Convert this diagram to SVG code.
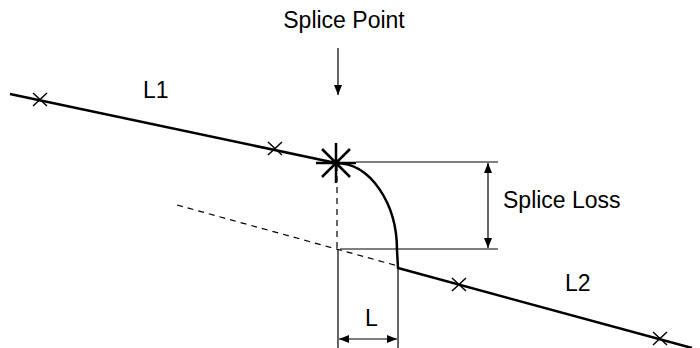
<svg xmlns="http://www.w3.org/2000/svg" width="700" height="348" viewBox="0 0 700 348">
<defs>
<style>
.t{font-family:"Liberation Sans",Arial,sans-serif;font-size:23px;fill:#000}
.thick{stroke:#000;stroke-width:2.5;fill:none}
.thin{stroke:#000;stroke-width:1.2;fill:none}
.dash{stroke:#000;stroke-width:1.2;fill:none;stroke-dasharray:6,5}
.x{stroke:#000;stroke-width:1.5;fill:none}
</style>
<marker id="ah" viewBox="0 0 10 8" refX="10" refY="4" markerWidth="10" markerHeight="8" markerUnits="userSpaceOnUse" orient="auto-start-reverse">
<path d="M0,0 L10,4 L0,8 Z" fill="#000"/>
</marker>
</defs>
<rect width="700" height="348" fill="#fff"/>
<g id="connectors">
<path class="thick" d="M10,94 L336,163"/>
<path class="thick" d="M336,163 C370,163 397,203 397,250 L398,268 L692,348"/>
<path class="dash" d="M177,205 L398,266"/>
<path class="dash" d="M337,165 L337,249"/>
<path class="thin" d="M338,249 L338,348"/>
<path class="thin" d="M398,268 L398,348"/>
<path class="thin" d="M356,162 L498,162"/>
<path class="thin" d="M340,249 L498,249"/>
<path class="thin" d="M488,163 L488,248" marker-start="url(#ah)" marker-end="url(#ah)"/>
<path class="thin" d="M339,339 L397,339" marker-start="url(#ah)" marker-end="url(#ah)"/>
<path class="thin" d="M338,48 L338,95" marker-end="url(#ah)"/>
</g>
<g id="splice-point">
<path class="thick" d="M316,163 L356,163 M336,143 L336,183 M322,149 L350,177 M350,149 L322,177"/>
<text class="t" x="344" y="28" text-anchor="middle">Splice Point</text>
</g>
<g id="marks">
<path class="x" d="M33,93 L47,106 M47,93 L33,106"/>
<path class="x" d="M268,142 L282,155 M282,142 L268,155"/>
<path class="x" d="M452,278 L466,291 M466,278 L452,291"/>
<path class="x" d="M653,332 L667,345 M667,332 L653,345"/>
</g>
<g id="labels">
<text class="t" x="143" y="98">L1</text>
<text class="t" x="565" y="291">L2</text>
<text class="t" x="503" y="208">Splice Loss</text>
<text class="t" x="365" y="326">L</text>
</g>
</svg>
